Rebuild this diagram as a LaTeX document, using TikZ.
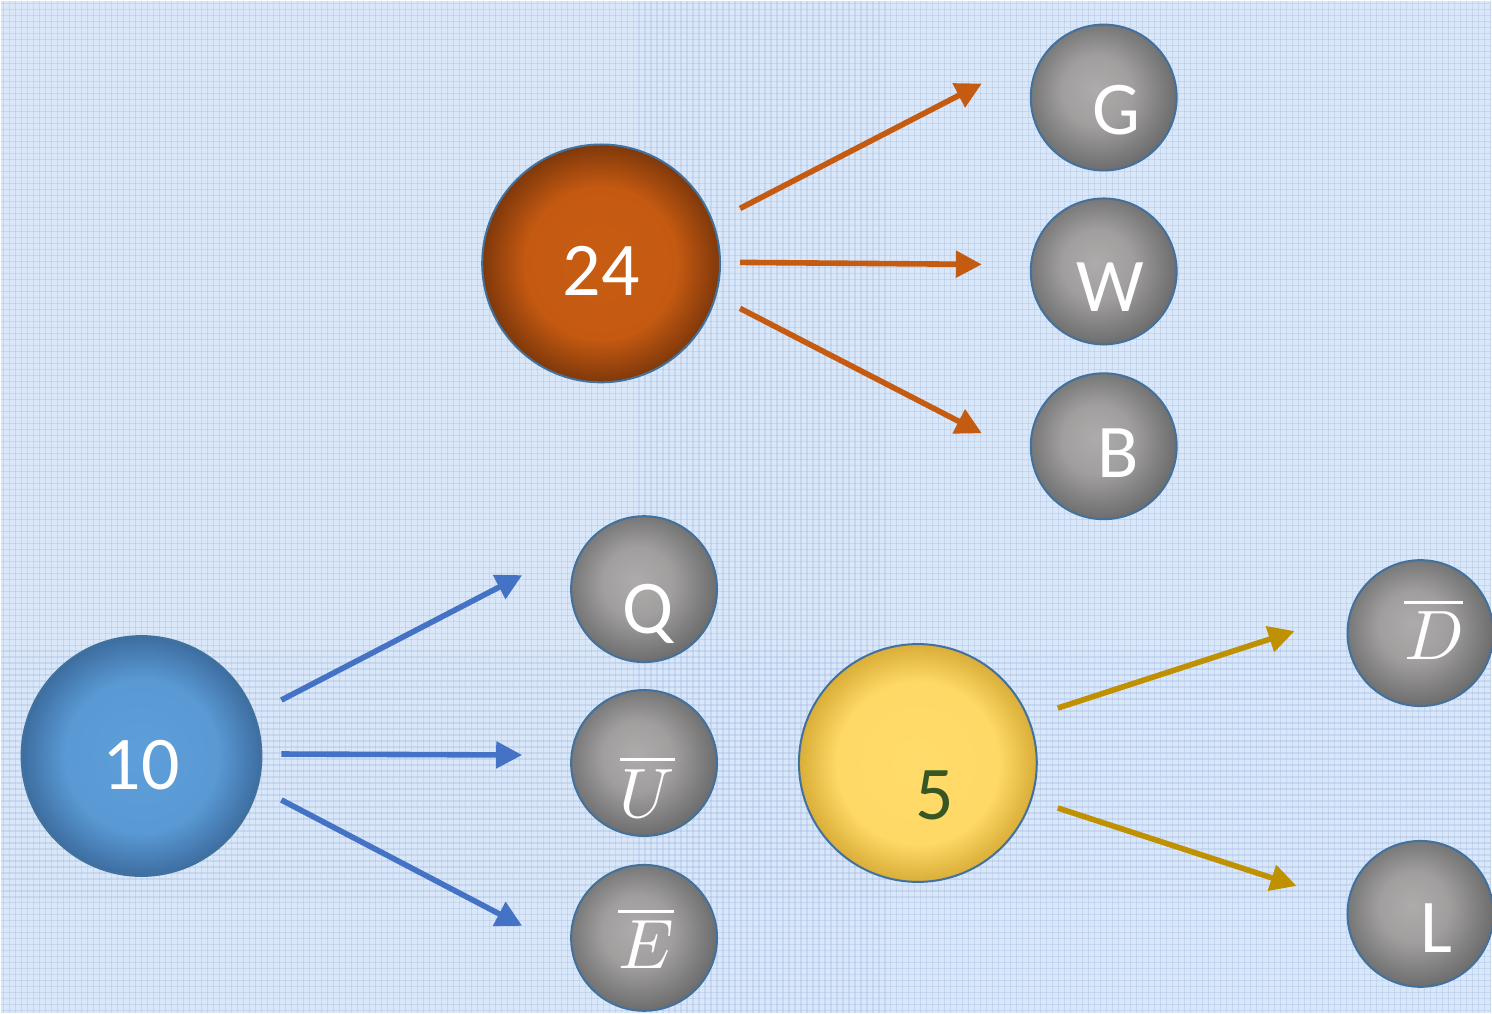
\documentclass[tikz,border=0pt]{standalone}
\usepackage{fontspec}
\usepackage{unicode-math}
\setmainfont{Carlito}
\setmathfont{Latin Modern Math}
\usetikzlibrary{arrows.meta,calc}

% ball shadings: flat body, darker rim
\pgfdeclareradialshading{orangeball}{\pgfpoint{0bp}{0bp}}{rgb(0bp)=(0.78,0.36,0.07); rgb(16bp)=(0.77,0.35,0.07); rgb(25bp)=(0.50,0.22,0.04); rgb(50bp)=(0.50,0.22,0.04)}
\pgfdeclareradialshading{blueball}{\pgfpoint{0bp}{0bp}}{rgb(0bp)=(0.37,0.62,0.85); rgb(16bp)=(0.35,0.60,0.83); rgb(25bp)=(0.24,0.43,0.63); rgb(50bp)=(0.24,0.43,0.63)}
\pgfdeclareradialshading{yellowball}{\pgfpoint{0bp}{0bp}}{rgb(0bp)=(1.00,0.86,0.42); rgb(17bp)=(1.00,0.85,0.40); rgb(25bp)=(0.85,0.68,0.22); rgb(50bp)=(0.85,0.68,0.22)}
\pgfdeclareradialshading{greyball}{\pgfpoint{-3bp}{3bp}}{rgb(0bp)=(0.68,0.67,0.67); rgb(12bp)=(0.63,0.62,0.62); rgb(27bp)=(0.42,0.42,0.42); rgb(50bp)=(0.42,0.42,0.42)}

\definecolor{bg}{RGB}{218,231,248}
\definecolor{weave}{RGB}{160,186,230}
\definecolor{rim}{RGB}{65,113,156}
\definecolor{orangeA}{RGB}{197,90,17}
\definecolor{blueA}{RGB}{68,114,196}
\definecolor{goldA}{RGB}{191,144,0}
\definecolor{greenT}{RGB}{55,86,35}

\tikzset{
  ball/.style={circle, draw=rim, line width=1pt, inner sep=0pt},
  bigball/.style={ball, minimum size=119pt},
  smallball/.style={ball, shading=greyball, minimum size=73pt},
  word/.style={text=white, font=\fontsize{38}{40}\selectfont, inner sep=0pt},
  mword/.style={text=white, font=\fontsize{35}{40}\selectfont, inner sep=0pt},
  link/.style={line width=2.8pt, -{Triangle[length=13pt,width=13pt]}},
}

\begin{document}
\begin{tikzpicture}[x=0.5pt, y=-0.5pt]
  % linen-like backdrop
  \fill[bg] (0,0) rectangle (1492,1013);
  \begin{scope}[weave, opacity=0.35, line width=0.6pt]
    \foreach \i in {3,9,...,1492} { \draw (\i,0) -- (\i,1013); }
    \foreach \j in {3,9,...,1013} { \draw (0,\j) -- (1492,\j); }
  \end{scope}
  \useasboundingbox (0,0) rectangle (1492,1013);

  % source balls
  \node[bigball, shading=orangeball] (n24) at (601,263) {};
  \node[bigball, shading=blueball, minimum size=120pt] (n10) at (141,756) {};
  \node[bigball, shading=yellowball] (n5) at (918,763) {};

  % target balls
  \node[smallball] (G) at (1104,97) {};
  \node[smallball] (W) at (1104,271) {};
  \node[smallball] (B) at (1104,446) {};
  \node[smallball] (Q) at (644,589) {};
  \node[smallball] (U) at (644,763) {};
  \node[smallball] (E) at (644,938) {};
  \node[smallball] (D) at (1421,633) {};
  \node[smallball] (L) at (1421,914) {};

  % labels
  \node[word] (t24) at (601,270) {24};
  \node[word] (t10) at (141,765) {10};
  \node[word, text=greenT] (t5) at (935,795) {5};
  \node[word] (tG) at (1117,110) {G};
  \node[word] (tW) at (1111,287) {W};
  \node[word] (tB) at (1118,453) {B};
  \node[word] (tQ) at (648,614) {Q};
  \node[mword] (tU) at (647,787) {$\overline{U}$};
  \node[mword] (tE) at (646,938) {$\overline{E}$};
  \node[mword] (tD) at (1434,629) {$\overline{D}$};
  \node[word] (tL) at (1437,928) {L};

  % 24 -> G, W, B
  \draw[link, orangeA] ($(n24)+(139,-55)$) -- ($(G)+(-122,-14)$);
  \draw[link, orangeA] ($(n24)+(139,-1)$) -- ($(W)+(-122,-7)$);
  \draw[link, orangeA] ($(n24)+(139,45)$) -- ($(B)+(-122,-13)$);

  % 10 -> Q, U, E
  \draw[link, blueA] ($(n10)+(140,-56)$) -- ($(Q)+(-122,-14)$);
  \draw[link, blueA] ($(n10)+(140,-2)$) -- ($(U)+(-122,-8)$);
  \draw[link, blueA] ($(n10)+(140,44)$) -- ($(E)+(-122,-12)$);

  % 5 -> D, L
  \draw[link, goldA] ($(n5)+(140,-55)$) -- ($(D)+(-126,-2)$);
  \draw[link, goldA] ($(n5)+(140,45)$) -- ($(L)+(-124,-28)$);
\end{tikzpicture}
\end{document}
